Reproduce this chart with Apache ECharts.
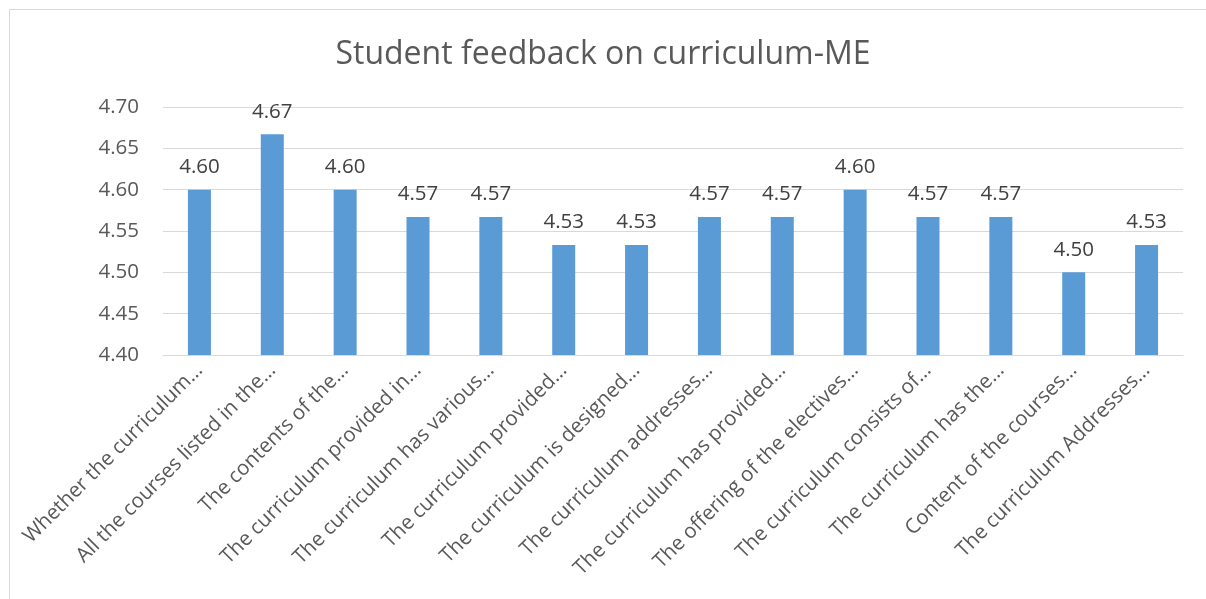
<!DOCTYPE html>
<html><head><meta charset="utf-8">
<script src="https://cdn.jsdelivr.net/npm/echarts@6/dist/echarts.min.js"></script>
<style>html,body{margin:0;padding:0;background:#fff}#c{width:1206px;height:599px}</style>
</head><body><div id="c"></div>
<script>
const title = "Student feedback on curriculum-ME";
const categories = [
  "Whether the curriculum…",
  "All the courses listed in the…",
  "The contents of the…",
  "The curriculum provided in…",
  "The curriculum has various…",
  "The curriculum provided…",
  "The curriculum is designed…",
  "The curriculum addresses…",
  "The curriculum has provided…",
  "The offering of the electives…",
  "The curriculum consists of…",
  "The curriculum has the…",
  "Content of the courses…",
  "The curriculum Addresses…"
];
const values = [4.600, 4.667, 4.600, 4.567, 4.567, 4.533, 4.533, 4.567, 4.567, 4.600, 4.567, 4.567, 4.500, 4.533];
const yTicks = {min: 4.40, max: 4.70, interval: 0.05};

const chart = echarts.init(document.getElementById('c'));
const font = "'Open Sans', 'Noto Sans', sans-serif";
chart.setOption({
  animation: false,
  graphic: [{type:'rect', shape:{x:9.5,y:9.5,width:1250,height:650}, style:{fill:'none', stroke:'#d9d9d9', lineWidth:1}, silent:true}],
  title: {text: title, left: 'center', top: 34, textStyle: {fontFamily: font, fontSize: 32, fontWeight: 'normal', color: '#595959'}},
  grid: {left: 163, right: 23, top: 107, bottom: 244, containLabel: false},
  xAxis: {
    type: 'category', data: categories,
    axisLine: {show: true, lineStyle: {color: '#d9d9d9', width: 1}},
    axisTick: {show: false},
    axisLabel: {rotate: 45, interval: 0, margin: 12, color: '#595959', fontFamily: font, fontSize: 20.5}
  },
  yAxis: {
    type: 'value', min: yTicks.min, max: yTicks.max, interval: yTicks.interval,
    axisLine: {show: false}, axisTick: {show: false},
    splitLine: {lineStyle: {color: '#d9d9d9', width: 1}},
    axisLabel: {formatter: v => v.toFixed(2), color: '#595959', fontFamily: font, fontSize: 20.5, margin: 24}
  },
  series: [{
    type: 'bar', data: values, barWidth: 23,
    itemStyle: {color: '#5b9bd5'},
    label: {show: true, position: 'top', distance: 12, formatter: p => p.value.toFixed(2), color: '#404040', fontFamily: font, fontSize: 20.5}
  }]
});
</script></body></html>
